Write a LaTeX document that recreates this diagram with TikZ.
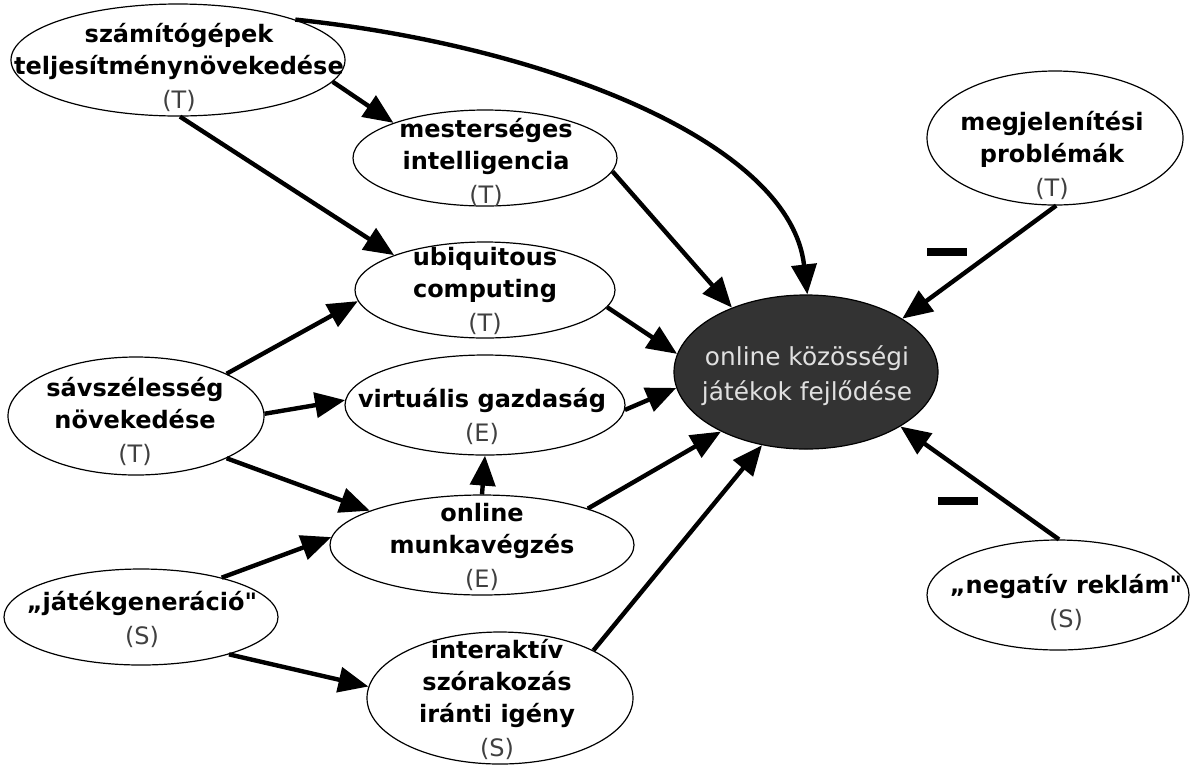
\documentclass[tikz,border=0pt]{standalone}
\usepackage{fontspec}
\setmainfont{DejaVu Sans}
\usetikzlibrary{shapes.geometric, arrows.meta}

\tikzset{
  oval/.style={ellipse, draw, line width=0.6pt, inner sep=0pt},
  txt/.style={align=center, inner sep=0pt, font=\fontsize{12}{16}\selectfont\bfseries},
  arr/.style={line width=2.2pt, -{Triangle[length=15pt, width=12.5pt]}},
  minus/.style={inner sep=0pt},
}
\newcommand{\kind}[1]{\\[1pt]{\mdseries\color{black!75}(#1)}}

\begin{document}
\begin{tikzpicture}[x=0.5pt, y=-0.5pt]
\useasboundingbox (0,0) rectangle (1192,767);

% ellipses
\node[oval, minimum width=167pt, minimum height=56pt] (comp) at (178,60) {};
\node[oval, minimum width=132pt, minimum height=48pt] (mest) at (485,158) {};
\node[oval, minimum width=130pt, minimum height=48pt] (ubi) at (485,290) {};
\node[oval, minimum width=140pt, minimum height=50pt] (virt) at (485,405) {};
\node[oval, minimum width=128pt, minimum height=59pt] (sav) at (136,416) {};
\node[oval, minimum width=152pt, minimum height=50pt] (munka) at (482,545) {};
\node[oval, minimum width=137pt, minimum height=48pt] (jatek) at (141,617) {};
\node[oval, minimum width=133pt, minimum height=66pt] (inter) at (500,698) {};
\node[oval, fill=black!80, minimum width=132pt, minimum height=77pt] (onl) at (806,372) {};
\node[oval, minimum width=128pt, minimum height=67pt] (megj) at (1055,138) {};
\node[oval, minimum width=131pt, minimum height=55pt] (neg) at (1058,595) {};

% texts
\node[txt] (comp-t) at (179,67) {számítógépek\\teljesítménynövekedése\kind{T}};
\node[txt] (mest-t) at (486,162) {mesterséges\\intelligencia\kind{T}};
\node[txt] (ubi-t) at (485,291) {ubiquitous\\computing\kind{T}};
\node[txt] (virt-t) at (482,416) {virtuális gazdaság\kind{E}};
\node[txt] (sav-t) at (135,421) {sávszélesség\\növekedése\kind{T}};
\node[txt] (munka-t) at (482,547) {online\\munkavégzés\kind{E}};
\node[txt] (jatek-t) at (142,619) {„játékgeneráció\textquotedbl\kind{S}};
\node[txt] (inter-t) at (497,699) {interaktív\\szórakozás\\iránti igény\kind{S}};
\node[txt] (megj-t) at (1052,155) {megjelenítési\\problémák\kind{T}};
\node[txt] (neg-t) at (1066,602) {„negatív reklám\textquotedbl\kind{S}};
\node[txt, font=\fontsize{12.4}{17.5}\selectfont, text=black!12] (onl-t) at (807,376) {online közösségi\\játékok fejlődése};

% arrows
\draw[arr] (comp.19) .. controls (540,45) and (790,140) .. (onl.89);
\draw[arr] (comp.-8) -- (mest.159);
\draw[arr] (comp.-88) -- (ubi.159);
\draw[arr] (mest.-6) -- (onl.139);
\draw[arr] (ubi.-8) -- (onl.172);
\draw[arr] (sav.25) -- (ubi.185);
\draw[arr] (sav.1) -- (virt.178);
\draw[arr] (sav.-25) -- (munka.163);
\draw[arr] (munka.90) -- (virt.-90);
\draw[arr] (virt.-2) -- (onl.-173);
\draw[arr] (munka.19) -- (onl.215);
\draw[arr] (jatek.26) -- (munka.177);
\draw[arr] (jatek.-23) -- (inter.175);
\draw[arr] (inter.27) -- (onl.-121);
\draw[arr] (megj.-89) -- (onl.29);
\draw[arr] (neg.89) -- (onl.-30);

\node[minus] (minus1) at (947,252) {\rule{20pt}{4.2pt}};
\node[minus] (minus2) at (958,501) {\rule{20pt}{4pt}};

\end{tikzpicture}
\end{document}
